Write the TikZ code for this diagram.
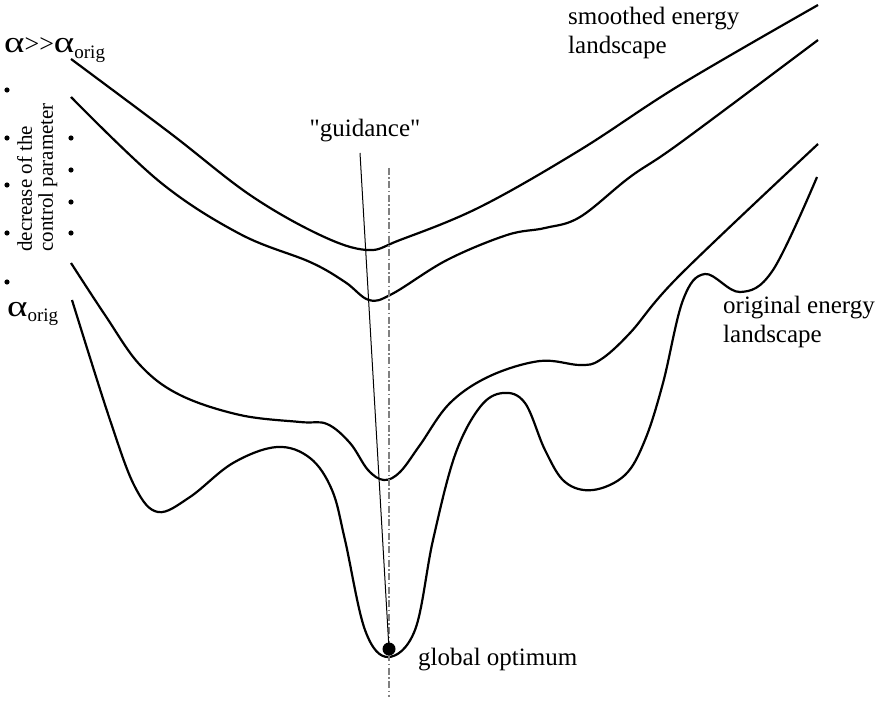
\documentclass[tikz,border=0pt]{standalone}
\usepackage{graphicx}
\usepackage{fontspec}
\setmainfont{Liberation Serif}[Ligatures=TeXOff]
\newcommand{\alf}{{\fontsize{30}{30}\selectfont\scalebox{1.3}[1]{α}}}
\newcommand{\orig}[1]{\raisebox{-#1}{\fontsize{19}{19}\selectfont orig}}
\begin{document}
\begin{tikzpicture}[
  x=1pt, y=-1pt,
  curve/.style={line width=2.2pt, line join=round},
  lbl/.style={font=\fontsize{25}{29}\selectfont, inner sep=0pt, align=left},
  vlbl/.style={font=\fontsize{21}{21}\selectfont, inner sep=0pt, align=left, rotate=90},
  optdot/.style={circle, fill=black, inner sep=0pt, minimum size=13pt},
  guide/.style={line width=1pt},
  optline/.style={line width=1.2pt, gray, dash pattern=on 7pt off 2.5pt on 1.5pt off 2.5pt}
]
  \useasboundingbox (0,0) rectangle (882,703);

  % landscapes, from most smoothed to original
  \draw[curve] plot[smooth, tension=0.6] coordinates {(71,59) (170,133) (250,195) (320,235)
    (367,250) (400,240) (480,207) (580,150) (680,85) (818,5)};
  \draw[curve] plot[smooth, tension=0.6] coordinates {(71,97) (160,182) (240,234) (310,262)
    (345,282) (369,300) (392,294) (447,260) (507,235) (545,228) (580,217) (630,177)
    (680,143) (818,40)};
  \draw[curve] plot[smooth, tension=0.6] coordinates {(71,263) (105,315) (140,365) (180,395)
    (240,415) (300,422) (327,424) (350,443) (368,470) (384,480) (400,472) (420,445)
    (450,403) (490,376) (540,361) (580,365) (600,360) (630,333) (680,275) (818,144)};
  \draw[curve] plot[smooth, tension=0.6] coordinates {(72,300) (110,420) (135,487) (158,512)
    (190,497) (233,463) (277,447) (310,458) (332,490) (345,540) (365,630) (388,657)
    (415,630) (433,540) (455,455) (480,407) (503,393) (525,403) (545,450) (565,482)
    (593,490) (625,475) (645,440) (663,383) (683,300) (705,274) (740,292) (773,270)
    (817,177)};

  % optimum and guidance
  \coordinate (optc) at (389,649);
  \coordinate (guidetop) at (360,153);
  \coordinate (vtop) at (389,168);
  \coordinate (vbot) at (389,697);
  \draw[optline] (vtop) -- (vbot);
  \draw[guide] (guidetop) -- (optc);
  \node[optdot] (opt) at (optc) {};
  \node[lbl, anchor=base] (guidance) at (365,137) {"guidance"};
  \node[lbl, anchor=base west] (optlbl) at (418,665) {global optimum};

  \node[lbl, anchor=base west] (smoothlbl) at (568,54) {smoothed energy\\landscape};
  \node[lbl, anchor=base west] (origlbl) at (723,342) {original energy\\landscape};

  % control parameter
  \node[lbl, anchor=base west] (amax) at (4,53) {\alf{\fontsize{26}{26}\selectfont>>}\alf\orig{6pt}};
  \node[lbl, anchor=base west] (amin) at (7,316) {\alf\orig{5pt}};
  \foreach \y in {90,138,185,233,282}
    \fill (7,\y) circle (2.6pt);
  \foreach \y in {138,170,202,233}
    \fill (71,\y) circle (2.6pt);
  \node[vlbl, anchor=north west] (ctrl) at (17,252) {decrease of the\\control parameter};
\end{tikzpicture}
\end{document}
